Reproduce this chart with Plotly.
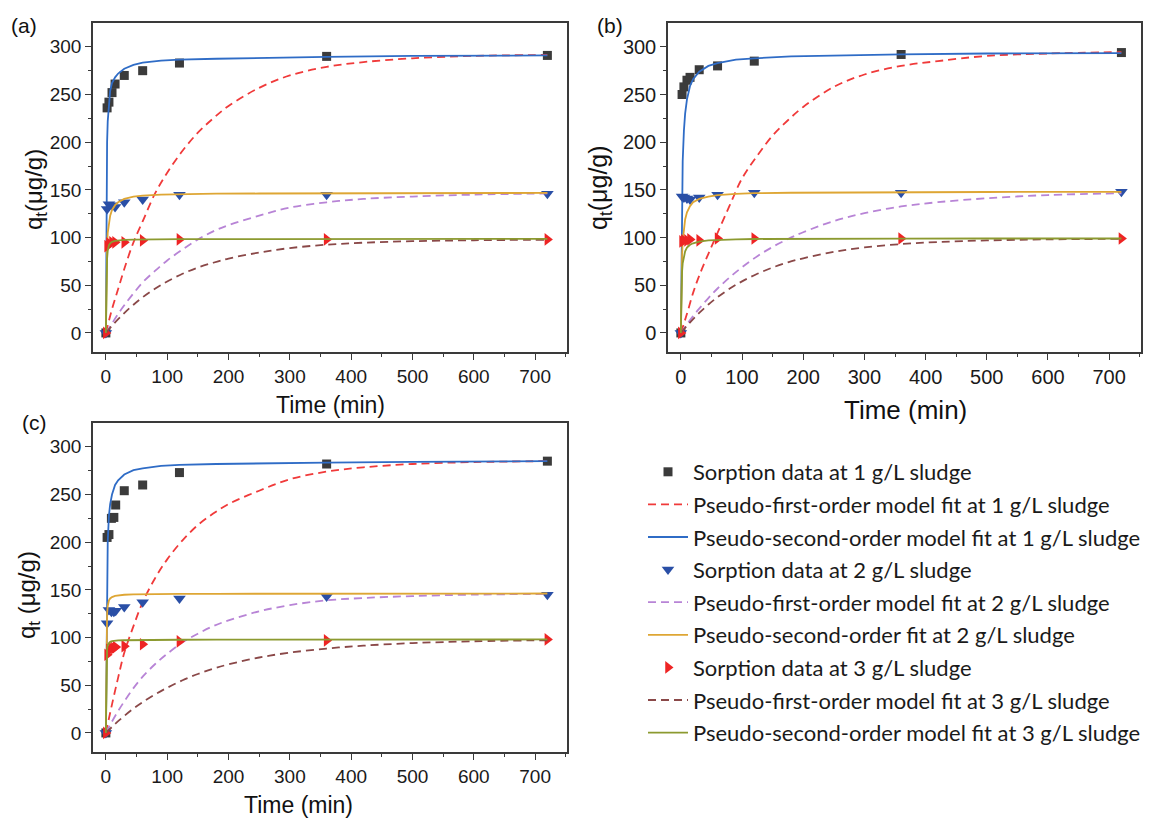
import plotly.graph_objects as go

# ---------------- data ----------------
# observation times (min)
t_obs_a = [0, 2, 5, 10, 15, 30, 60, 120, 360, 720]
t_obs_b = [0, 2, 5, 10, 15, 30, 60, 120, 360, 720]
t_obs_c = [0, 2, 5, 9, 13, 16, 30, 60, 120, 360, 720]

# sorption data (ug/g)
s1_a = [0, 236, 242, 252, 261, 270, 275, 283, 290, 291]
s2_a = [0, 130, 135, 134, 132, 137, 140, 145, 145, 146]
s3_a = [0, 91, 94, 95, 95, 95, 97, 98, 98, 98]

s1_b = [0, 250, 258, 265, 268, 276, 280, 285, 292, 294]
s2_b = [0, 143, 142, 141, 140, 142, 145, 147, 147, 148]
s3_b = [0, 96, 97, 97, 98, 97, 99, 99, 99, 99]

s1_c = [0, 205, 208, 225, 226, 239, 254, 260, 273, 282, 285]
s2_c = [0, 115, 129, 127, 127, 128, 132, 137, 141, 143, 145]
s3_c = [0, 82, 87, 89, 89, 90, 91, 93, 96, 97, 98]

# model-curve sample times (min)
t_pso = [0, 1, 2, 3, 5, 7, 10, 15, 20, 30, 45, 60, 90, 120, 180, 250, 360, 500, 720]
t_pfo = [0, 10, 20, 30, 45, 60, 80, 100, 125, 150, 175, 200, 250, 300, 360, 420, 500, 600, 720]

# pseudo-second-order curves
pso1_a = [0, 150, 200, 222, 243, 254, 262, 268, 272, 277, 281, 283.5, 285.5, 286.5, 287.5, 288.5, 289.5, 290.5, 291]
pso2_a = [0, 60, 90, 105, 117, 123, 129, 134, 137, 140.5, 143, 144, 145, 145.5, 146, 146.2, 146.4, 146.6, 146.8]
pso3_a = [0, 55, 78, 86, 92, 94, 95.5, 96.5, 97, 97.5, 97.8, 98, 98.2, 98.3, 98.4, 98.5, 98.6, 98.6, 98.7]
pso1_b = [0, 100, 150, 180, 212, 230, 245, 259, 266, 274, 280, 283, 286.5, 288, 290, 291, 292, 293, 293.5]
pso2_b = [0, 56, 81, 96, 111, 119, 126.5, 133, 137, 140.5, 143, 144.5, 145.8, 146.5, 147, 147.3, 147.6, 147.8, 148]
pso3_b = [0, 48, 64.5, 73, 81.5, 85.5, 89.5, 92.5, 94, 95.8, 97, 97.6, 98.2, 98.5, 98.7, 98.8, 98.9, 99, 99]
pso1_c = [0, 110, 170, 200, 228, 240, 250, 260, 265, 271, 275.5, 277.5, 280, 281, 282, 282.8, 283.5, 284.3, 285]
pso2_c = [0, 100, 125, 133, 139, 141, 142.5, 143.7, 144.3, 144.9, 145.3, 145.5, 145.7, 145.8, 145.9, 146, 146, 146.1, 146.2]
pso3_c = [0, 75, 88, 92, 94.5, 95.5, 96.2, 96.7, 97, 97.2, 97.4, 97.5, 97.6, 97.7, 97.8, 97.8, 97.9, 98, 98]

# pseudo-first-order curves
pfo1_a = [0, 25, 46, 67, 95, 117, 146, 168, 191, 210, 225, 238, 257, 270, 279, 284, 288, 290.5, 291.5]
pfo2_a = [0, 10, 20, 29, 41.5, 53, 65, 76, 87.5, 98, 106.5, 113, 123, 131.5, 137, 140.5, 143, 145, 146.3]
pfo3_a = [0, 7.5, 14.4, 20.8, 29.6, 37.4, 46.4, 54, 62, 68.6, 73.6, 78, 84.3, 89, 92.5, 94.6, 96.2, 97.2, 97.7]
pfo1_b = [0, 20, 42, 60, 83, 105, 134, 162, 186, 207, 223, 237, 258, 271, 280, 285, 290.5, 293, 294.5]
pfo2_b = [0, 9, 17.6, 25.5, 36.6, 46.6, 58.4, 68.9, 80.5, 90.2, 98.5, 105.6, 117.3, 125.6, 132.6, 137.1, 141.2, 144.6, 146.4]
pfo3_b = [0, 7.5, 14.5, 21, 29.8, 37.5, 46.5, 54.1, 62, 68.6, 74, 78.3, 85, 89.6, 93.2, 95.3, 97, 98.1, 98.7]
pfo1_c = [0, 30, 58, 84, 112, 137, 162, 182, 202, 218, 230, 240, 254, 266, 274, 278.5, 282, 284, 285]
pfo2_c = [0, 12, 23, 33, 47, 59, 72, 83, 95, 104, 112, 118, 127.5, 134, 139, 141.5, 143.5, 145, 145.8]
pfo3_c = [0, 6.3, 12.3, 17.8, 25.5, 32.2, 40.3, 47.4, 55.2, 61.8, 67.3, 71.9, 79.1, 84.2, 88.5, 91.5, 94.2, 96.1, 97.2]

legend_names = [
    "Sorption data at 1 g/L sludge",
    "Pseudo-first-order model fit at 1 g/L sludge",
    "Pseudo-second-order model fit at 1 g/L sludge",
    "Sorption data at 2 g/L sludge",
    "Pseudo-first-order model fit at 2 g/L sludge",
    "Pseudo-second-order fit at 2 g/L sludge",
    "Sorption data at 3 g/L sludge",
    "Pseudo-first-order model fit at 3 g/L sludge",
    "Pseudo-second-order model fit at 3 g/L sludge",
]

# ---------------- styles ----------------
C_SQ = "#3b3b3b"
C_PFO1 = "#f03a3a"
C_PSO1 = "#2f6cc6"
C_TRI2 = "#2a4fa6"
C_PFO2 = "#b884d6"
C_PSO2 = "#dea634"
C_TRI3 = "#ee2424"
C_PFO3 = "#8a4848"
C_PSO3 = "#8c9a30"
DASH = "8px,5px"

panels = [
    dict(x="x", y="y", t_obs=t_obs_a, s=(s1_a, s2_a, s3_a),
         pso=(pso1_a, pso2_a, pso3_a), pfo=(pfo1_a, pfo2_a, pfo3_a), legend=True),
    dict(x="x2", y="y2", t_obs=t_obs_b, s=(s1_b, s2_b, s3_b),
         pso=(pso1_b, pso2_b, pso3_b), pfo=(pfo1_b, pfo2_b, pfo3_b), legend=False),
    dict(x="x3", y="y3", t_obs=t_obs_c, s=(s1_c, s2_c, s3_c),
         pso=(pso1_c, pso2_c, pso3_c), pfo=(pfo1_c, pfo2_c, pfo3_c), legend=False),
]

marker_styles = [
    dict(symbol="square", color=C_SQ, size=9),
    dict(symbol="triangle-down", color=C_TRI2, size=11),
    dict(symbol="triangle-right", color=C_TRI3, size=11),
]
pfo_colors = [C_PFO1, C_PFO2, C_PFO3]
pso_colors = [C_PSO1, C_PSO2, C_PSO3]

fig = go.Figure()
for p in panels:
    for i in range(3):
        fig.add_trace(go.Scatter(
            x=p["t_obs"], y=p["s"][i], mode="markers",
            marker=dict(symbol=marker_styles[i]["symbol"], color=marker_styles[i]["color"],
                        size=marker_styles[i]["size"], line=dict(width=0)),
            name=legend_names[3 * i], legendgroup=str(3 * i), legendrank=3 * i + 1,
            showlegend=p["legend"], xaxis=p["x"], yaxis=p["y"]))
        fig.add_trace(go.Scatter(
            x=t_pfo, y=p["pfo"][i], mode="lines", line_shape="spline",
            line=dict(color=pfo_colors[i], width=1.8, dash=DASH),
            name=legend_names[3 * i + 1], legendgroup=str(3 * i + 1), legendrank=3 * i + 2,
            showlegend=p["legend"], xaxis=p["x"], yaxis=p["y"]))
        fig.add_trace(go.Scatter(
            x=t_pso, y=p["pso"][i], mode="lines",
            line=dict(color=pso_colors[i], width=1.8),
            name=legend_names[3 * i + 2], legendgroup=str(3 * i + 2), legendrank=3 * i + 3,
            showlegend=p["legend"], xaxis=p["x"], yaxis=p["y"]))

W, H = 1153, 828
FONT = "Liberation Sans, Arial, sans-serif"


def xd(a, b):
    return [a / W, b / W]


def yd(top, bottom):
    return [1 - bottom / H, 1 - top / H]


axis_common = dict(showline=True, linecolor="#3a3a3a", linewidth=1.5, mirror=True,
                   ticks="outside", ticklen=6, tickwidth=1.3, tickcolor="#3a3a3a",
                   showgrid=False, zeroline=False,
                   tickfont=dict(family=FONT, size=19, color="#1a1a1a"))
xaxis_common = dict(axis_common, range=[-21, 752], tickvals=[0, 100, 200, 300, 400, 500, 600, 700],
                    minor=dict(tickvals=[50, 150, 250, 350, 450, 550, 650, 750], ticklen=3,
                               tickcolor="#3a3a3a", ticks="outside"))
yaxis_common = dict(axis_common, range=[-20, 325], tickvals=[0, 50, 100, 150, 200, 250, 300],
                    minor=dict(tickvals=[25, 75, 125, 175, 225, 275], ticklen=3,
                               tickcolor="#3a3a3a", ticks="outside"))

fig.update_layout(
    width=W, height=H, margin=dict(l=0, r=0, t=0, b=0),
    paper_bgcolor="white", plot_bgcolor="white",
    xaxis=dict(xaxis_common, domain=xd(93, 567), anchor="y"),
    yaxis=dict(yaxis_common, domain=yd(23, 352), anchor="x"),
    xaxis2=dict(xaxis_common, domain=xd(668, 1141), anchor="y2",
                tickfont=dict(family=FONT, size=20, color="#1a1a1a")),
    yaxis2=dict(yaxis_common, domain=yd(23, 352), anchor="x2",
                tickfont=dict(family=FONT, size=20, color="#1a1a1a")),
    xaxis3=dict(xaxis_common, domain=xd(93, 567), anchor="y3"),
    yaxis3=dict(yaxis_common, domain=yd(423, 752), anchor="x3"),
    legend=dict(x=643 / W, y=1 - 451 / H, xanchor="left", yanchor="top",
                bgcolor="rgba(0,0,0,0)", borderwidth=0, tracegroupgap=1,
                font=dict(family="Lato, Noto Sans, sans-serif", size=22, color="#1a1a1a"),
                itemwidth=40),
    showlegend=True,
)

annots = [
    dict(text="(a)", x=24 / W, y=1 - 25 / H, size=21),
    dict(text="(b)", x=610 / W, y=1 - 25 / H, size=21),
    dict(text="(c)", x=34 / W, y=1 - 422 / H, size=21),
    dict(text="Time (min)", x=330 / W, y=1 - 405 / H, size=23),
    dict(text="Time (min)", x=905 / W, y=1 - 410 / H, size=26),
    dict(text="Time (min)", x=298 / W, y=1 - 805 / H, size=23),
]
for a in annots:
    fig.add_annotation(text=a["text"], x=a["x"], y=a["y"], xref="paper", yref="paper",
                       showarrow=False, xanchor="center", yanchor="middle",
                       font=dict(family=FONT, size=a["size"], color="#111111"))

ytitles = [
    dict(text="q<sub>t</sub>(μg/g)", x=35, y=190, size=24),
    dict(text="q<sub>t</sub>(μg/g)", x=600, y=188, size=25),
    dict(text="q<sub>t</sub> (μg/g)", x=28, y=595, size=24),
]
for a in ytitles:
    fig.add_annotation(text=a["text"], x=a["x"] / W, y=1 - a["y"] / H, xref="paper", yref="paper",
                       showarrow=False, textangle=-90, xanchor="center", yanchor="middle",
                       font=dict(family=FONT, size=a["size"], color="#111111"))

fig.write_html("out.html")
